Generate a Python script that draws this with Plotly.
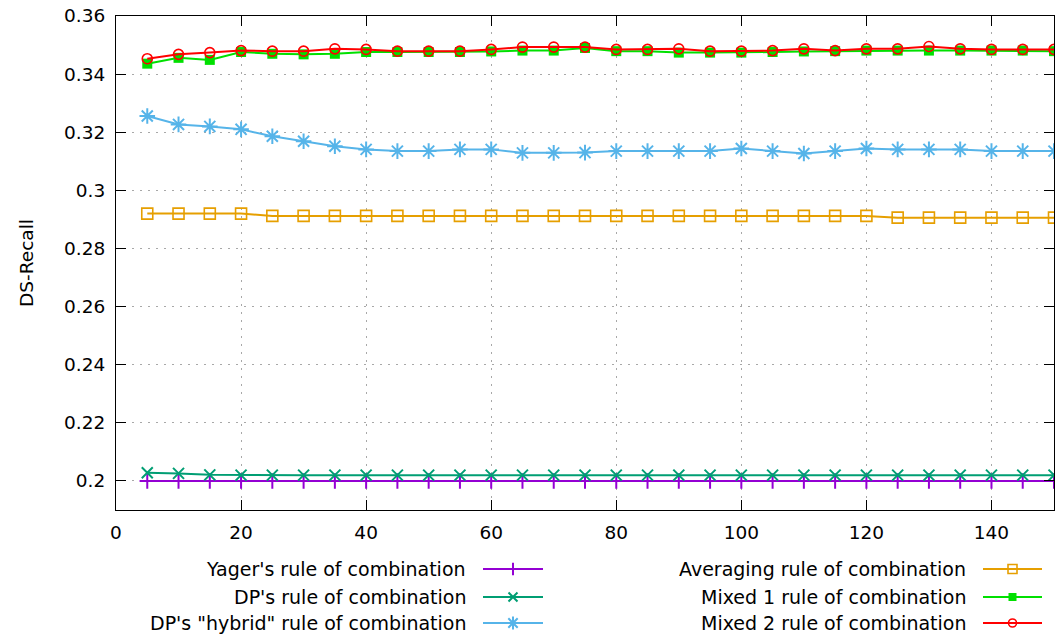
import plotly.graph_objects as go

# Number of combined sources
x_vals = [5, 10, 15, 20, 25, 30, 35, 40, 45, 50, 55, 60, 65, 70, 75,
          80, 85, 90, 95, 100, 105, 110, 115, 120, 125, 130, 135, 140, 145, 150]

yager = [0.2000, 0.2000, 0.2000, 0.2000, 0.2000, 0.2000, 0.2000, 0.2000, 0.2000, 0.2000,
         0.2000, 0.2000, 0.2000, 0.2000, 0.2000, 0.2000, 0.2000, 0.2000, 0.2000, 0.2000,
         0.2000, 0.2000, 0.2000, 0.2000, 0.2000, 0.2000, 0.2000, 0.2000, 0.2000, 0.2000]

dp = [0.2028, 0.2026, 0.2021, 0.2020, 0.2020, 0.2020, 0.2020, 0.2020, 0.2020, 0.2020,
      0.2020, 0.2020, 0.2020, 0.2020, 0.2020, 0.2020, 0.2020, 0.2020, 0.2020, 0.2020,
      0.2020, 0.2020, 0.2020, 0.2020, 0.2020, 0.2020, 0.2020, 0.2020, 0.2020, 0.2020]

dp_hybrid = [0.3256, 0.3227, 0.3220, 0.3210, 0.3186, 0.3169, 0.3152, 0.3141, 0.3135, 0.3135,
             0.3141, 0.3141, 0.3129, 0.3129, 0.3130, 0.3135, 0.3135, 0.3135, 0.3135, 0.3144,
             0.3135, 0.3127, 0.3135, 0.3144, 0.3141, 0.3141, 0.3141, 0.3135, 0.3135, 0.3135]

averaging = [0.2920, 0.2920, 0.2920, 0.2920, 0.2912, 0.2912, 0.2912, 0.2912, 0.2912, 0.2912,
             0.2912, 0.2912, 0.2912, 0.2912, 0.2912, 0.2912, 0.2912, 0.2912, 0.2912, 0.2912,
             0.2912, 0.2912, 0.2912, 0.2912, 0.2906, 0.2906, 0.2906, 0.2906, 0.2906, 0.2906]

mixed1 = [0.3436, 0.3456, 0.3449, 0.3476, 0.3470, 0.3468, 0.3470, 0.3476, 0.3476, 0.3476,
          0.3476, 0.3478, 0.3481, 0.3481, 0.3490, 0.3479, 0.3479, 0.3474, 0.3474, 0.3474,
          0.3476, 0.3478, 0.3479, 0.3481, 0.3481, 0.3481, 0.3481, 0.3481, 0.3481, 0.3479]

mixed2 = [0.3453, 0.3468, 0.3474, 0.3481, 0.3479, 0.3479, 0.3487, 0.3485, 0.3479, 0.3479,
          0.3479, 0.3485, 0.3493, 0.3493, 0.3493, 0.3485, 0.3485, 0.3487, 0.3479, 0.3479,
          0.3481, 0.3487, 0.3481, 0.3487, 0.3487, 0.3495, 0.3487, 0.3485, 0.3485, 0.3485]

series_names = [
    "Yager's rule of combination",
    "DP's rule of combination",
    'DP\'s "hybrid" rule of combination',
    "Averaging rule of combination",
    "Mixed 1 rule of combination",
    "Mixed 2 rule of combination",
]
series_values = [yager, dp, dp_hybrid, averaging, mixed1, mixed2]

y_ticks = [0.2, 0.22, 0.24, 0.26, 0.28, 0.3, 0.32, 0.34, 0.36]
y_tick_text = ["0.2", "0.22", "0.24", "0.26", "0.28", "0.3", "0.32", "0.34", "0.36"]
x_ticks = [0, 20, 40, 60, 80, 100, 120, 140]

# Styling per series: colour, marker symbol, marker size, marker outline width
styles = [
    dict(color="#9400d3", symbol="cross-thin", size=11, lw=2),
    dict(color="#009e73", symbol="x-thin", size=11, lw=2),
    dict(color="#56b4e9", symbol="asterisk", size=13, lw=2),
    dict(color="#e69f00", symbol="square-open", size=11, lw=1.6),
    dict(color="#00e000", symbol="square", size=10, lw=0),
    dict(color="#ff0000", symbol="circle-open", size=10, lw=1.6),
]

FONT = "DejaVu Sans"
W, H = 1057, 636
L, R, T = 116, 3, 16
PLOT_BOTTOM = 510
paper_h = H - T
main_y0 = (H - PLOT_BOTTOM) / paper_h
key_top = 0.19

fig = go.Figure()

for name, vals, st in zip(series_names, series_values, styles):
    fig.add_trace(go.Scatter(
        x=x_vals, y=vals, mode="lines+markers", name=name,
        line=dict(color=st["color"], width=2),
        marker=dict(symbol=st["symbol"], size=st["size"], color=st["color"],
                    line=dict(color=st["color"], width=st["lw"])),
        showlegend=False, xaxis="x", yaxis="y",
    ))

# Key: two columns, right-aligned text with a line sample to the right.
key_rows = [569, 597, 623]
key_cols = [(468, 483, 543), (968, 983, 1042)]
for i, (name, st) in enumerate(zip(series_names, styles)):
    col = i // 3
    row = i % 3
    text_right, s0, s1 = key_cols[col]
    yk = key_rows[row]
    fig.add_trace(go.Scatter(
        x=[s0, s1], y=[yk, yk], mode="lines",
        line=dict(color=st["color"], width=2),
        showlegend=False, hoverinfo="skip", xaxis="x2", yaxis="y2",
    ))
    fig.add_trace(go.Scatter(
        x=[(s0 + s1) / 2], y=[yk], mode="markers",
        marker=dict(symbol=st["symbol"], size=st["size"] - 2, color=st["color"],
                    line=dict(color=st["color"], width=st["lw"])),
        showlegend=False, hoverinfo="skip", xaxis="x2", yaxis="y2",
    ))
    fig.add_annotation(
        x=text_right, y=yk, xref="x2", yref="y2", text=name, showarrow=False,
        xanchor="right", yanchor="middle", font=dict(family=FONT, size=19, color="#000000"),
    )

axis_common = dict(
    showline=True, linecolor="#000000", linewidth=1.2, mirror="ticks",
    ticks="inside", ticklen=10, tickwidth=1.2, tickcolor="#000000",
    showgrid=True, gridcolor="#a8a8a8", gridwidth=1, griddash="2px,6px",
    zeroline=False, tickfont=dict(family=FONT, size=18.5, color="#000000"),
    ticklabelstandoff=6,
)

fig.update_layout(
    width=W, height=H,
    margin=dict(l=L, r=R, t=T, b=0, pad=0),
    paper_bgcolor="#ffffff", plot_bgcolor="#ffffff",
    font=dict(family=FONT, size=18.5, color="#000000"),
    xaxis=dict(range=[0, 150], tickvals=x_ticks, domain=[0, 1], anchor="y", **axis_common),
    yaxis=dict(range=[0.19, 0.36], tickvals=y_ticks, ticktext=y_tick_text,
               domain=[main_y0, 1], anchor="x",
               title=dict(text="DS-Recall", standoff=25,
                          font=dict(family=FONT, size=18.5, color="#000000")),
               **axis_common),
    xaxis2=dict(range=[L, W - R], domain=[0, 1], anchor="y2", visible=False,
                fixedrange=True),
    yaxis2=dict(range=[H, H - key_top * paper_h], domain=[0, key_top], anchor="x2",
                visible=False, fixedrange=True),
)

fig.write_html("out.html")
